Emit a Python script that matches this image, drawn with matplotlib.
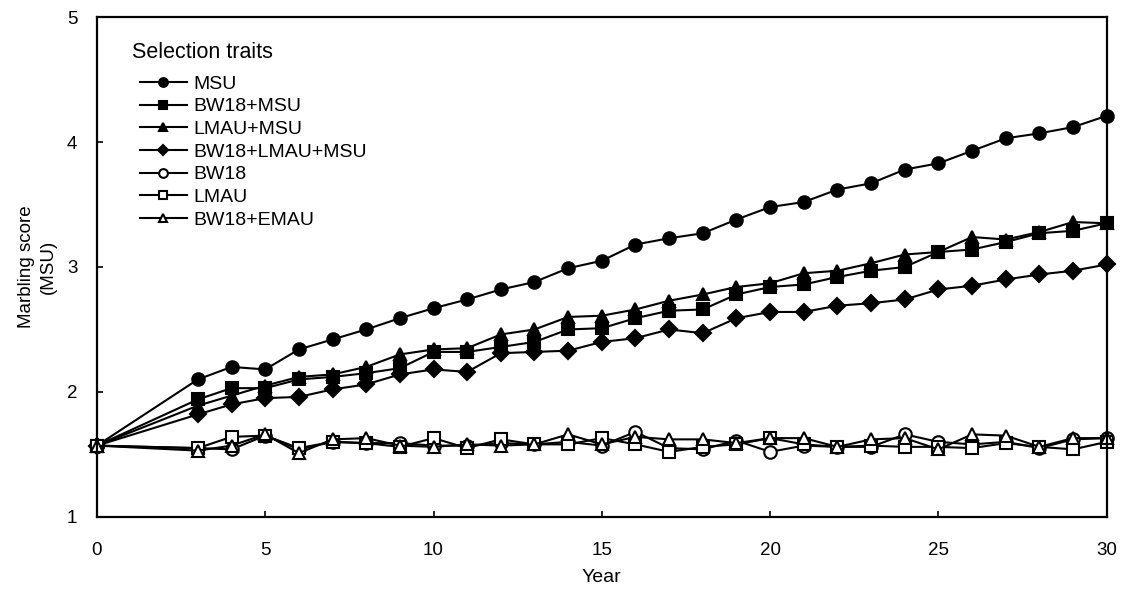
import numpy as np
import matplotlib
matplotlib.use('Agg')
import matplotlib.pyplot as plt

plt.rcParams['font.family'] = ['Liberation Sans', 'DejaVu Sans']

years = [0] + list(range(3, 31))

# years 0,3,4,...,30
msu = [1.57, 2.10, 2.20, 2.18, 2.34, 2.42, 2.50, 2.59, 2.67, 2.74, 2.82, 2.88, 2.99, 3.05,
       3.18, 3.23, 3.27, 3.38, 3.48, 3.52, 3.62, 3.67, 3.78, 3.83, 3.93, 4.03, 4.07, 4.12, 4.21]
bw18_msu = [1.57, 1.94, 2.03, 2.03, 2.10, 2.12, 2.15, 2.19, 2.32, 2.32, 2.36, 2.40, 2.50, 2.51,
            2.59, 2.65, 2.66, 2.78, 2.84, 2.86, 2.92, 2.97, 3.00, 3.12, 3.14, 3.20, 3.27, 3.29, 3.35]
lmau_msu = [1.57, 1.89, 1.97, 2.05, 2.12, 2.14, 2.20, 2.30, 2.34, 2.35, 2.46, 2.50, 2.60, 2.61,
            2.66, 2.73, 2.78, 2.84, 2.87, 2.95, 2.97, 3.03, 3.10, 3.12, 3.24, 3.22, 3.28, 3.36, 3.35]
bw18_lmau_msu = [1.57, 1.82, 1.90, 1.95, 1.96, 2.02, 2.06, 2.14, 2.18, 2.16, 2.31, 2.32, 2.33, 2.40,
                 2.43, 2.50, 2.47, 2.59, 2.64, 2.64, 2.69, 2.71, 2.74, 2.82, 2.85, 2.90, 2.94, 2.97, 3.02]
bw18 = [1.57, 1.55, 1.54, 1.65, 1.54, 1.60, 1.59, 1.59, 1.57, 1.57, 1.59, 1.58, 1.60, 1.57,
        1.68, 1.55, 1.54, 1.61, 1.52, 1.57, 1.56, 1.56, 1.66, 1.60, 1.58, 1.60, 1.55, 1.62, 1.63]
lmau = [1.57, 1.55, 1.64, 1.65, 1.55, 1.60, 1.59, 1.56, 1.63, 1.55, 1.62, 1.58, 1.58, 1.63,
        1.58, 1.52, 1.56, 1.58, 1.63, 1.58, 1.56, 1.57, 1.56, 1.56, 1.55, 1.59, 1.56, 1.54, 1.60]
bw18_emau = [1.57, 1.53, 1.57, 1.66, 1.51, 1.62, 1.63, 1.57, 1.56, 1.58, 1.57, 1.58, 1.66, 1.58,
             1.64, 1.62, 1.62, 1.59, 1.63, 1.63, 1.56, 1.62, 1.63, 1.54, 1.66, 1.65, 1.56, 1.63, 1.63]

series = [
    ('MSU', msu, 'o', 'k'),
    ('BW18+MSU', bw18_msu, 's', 'k'),
    ('LMAU+MSU', lmau_msu, '^', 'k'),
    ('BW18+LMAU+MSU', bw18_lmau_msu, 'D', 'k'),
    ('BW18', bw18, 'o', 'w'),
    ('LMAU', lmau, 's', 'w'),
    ('BW18+EMAU', bw18_emau, '^', 'w'),
]

fig = plt.figure(figsize=(11.27, 5.92), dpi=100)
ax = fig.add_axes([0.086, 0.127, 0.896, 0.844])

for name, vals, mk, fc in series:
    ms = 8 if mk == 'D' else 9
    ax.plot(years, vals, color='k', lw=1.5, marker=mk, ms=ms,
            mfc=fc, mec='k', mew=1.5, label=name, clip_on=False)

ax.set_xlim(0, 30)
ax.set_ylim(1, 5)
ax.set_xticks(range(0, 31, 5))
ax.set_yticks(range(1, 6))
ax.tick_params(direction='in', length=4, width=1.2, labelsize=13.5)
ax.tick_params(axis='x', pad=18)
ax.tick_params(axis='y', pad=14)
for s in ax.spines.values():
    s.set_linewidth(1.6)

ax.set_xlabel('Year', fontsize=14)
ax.xaxis.set_label_coords(0.5, -0.105)
ax.set_ylabel('Marbling score\n(MSU)', fontsize=13.5, linespacing=1.35)
ax.yaxis.set_label_coords(-0.04, 0.5)

ax.text(0.0347, 0.93, 'Selection traits', transform=ax.transAxes,
        fontsize=15.5, ha='left', va='center')
ax.legend(loc='upper left', bbox_to_anchor=(0.0426, 0.884), frameon=False,
          fontsize=14, handlelength=2.4, handletextpad=0.35, labelspacing=0.26,
          markerscale=0.7, borderpad=0, borderaxespad=0)

fig.savefig('out.png', dpi=100)
